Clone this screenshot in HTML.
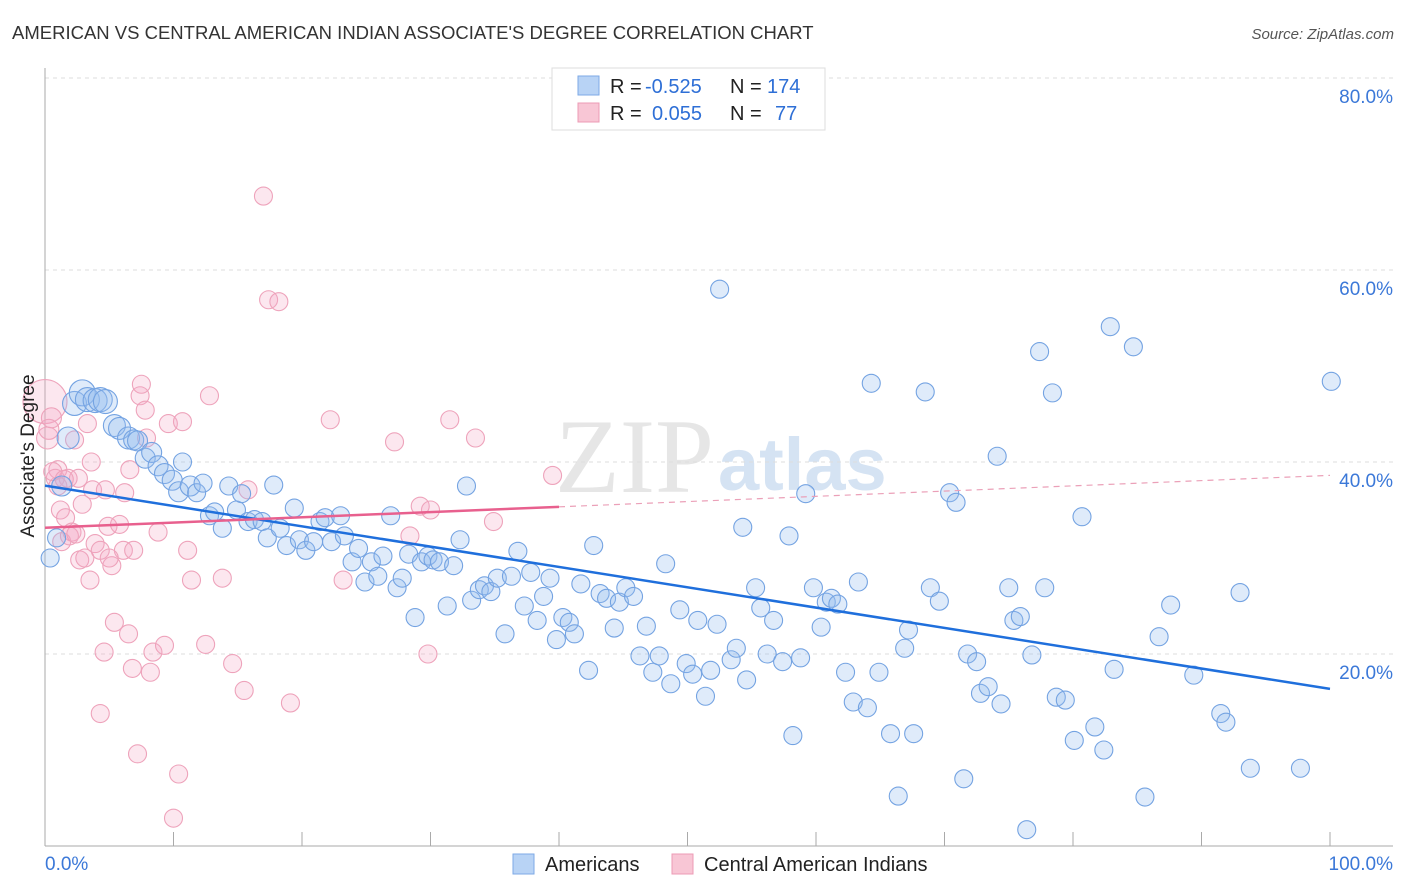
<!DOCTYPE html>
<html><head><meta charset="utf-8"><style>
body{margin:0;background:#fff;font-family:"Liberation Sans",sans-serif;}
svg{display:block}
</style></head><body>
<svg id="chart" width="1406" height="892">
<text x="12" y="39" font-size="18.5" fill="#333">AMERICAN VS CENTRAL AMERICAN INDIAN ASSOCIATE'S DEGREE CORRELATION CHART</text>
<text x="1394" y="39" font-size="15" fill="#555" font-style="italic" text-anchor="end">Source: ZipAtlas.com</text>
<text x="714" y="492" font-size="106" fill="#e6e6e6" text-anchor="end" font-family="Liberation Serif">ZIP</text>
<text x="718" y="490" font-size="74" fill="#d5e3f3" font-weight="bold">atlas</text>
<g id="grid"></g>
<g id="marks"></g>
<g id="lines"></g>
<text transform="translate(34,456) rotate(-90)" font-size="19" fill="#222" text-anchor="middle">Associate's Degree</text>
<text x="45" y="870" font-size="19" fill="#3b78d8">0.0%</text>
<text x="1393" y="870" font-size="19" fill="#3b78d8" text-anchor="end">100.0%</text>
<g>
<rect x="552" y="68" width="273" height="62" fill="#fff" stroke="#ddd"/>
<rect x="578" y="76" width="21" height="19" fill="#b8d3f5" stroke="#7eaae6"/>
<rect x="578" y="103" width="21" height="19" fill="#f8c6d5" stroke="#ec9bb5"/>
<text x="610" y="93" font-size="20" fill="#222">R = <tspan fill="#2e6fd6" x="645">-0.525</tspan></text>
<text x="730" y="93" font-size="20" fill="#222">N = <tspan fill="#2e6fd6" x="767">174</tspan></text>
<text x="610" y="120" font-size="20" fill="#222">R = <tspan fill="#2e6fd6" x="652">0.055</tspan></text>
<text x="730" y="120" font-size="20" fill="#222">N = <tspan fill="#2e6fd6" x="775">77</tspan></text>
</g>
<g>
<rect x="513" y="854" width="21" height="20" fill="#b8d3f5" stroke="#7eaae6"/>
<text x="545" y="871" font-size="20" fill="#222">Americans</text>
<rect x="672" y="854" width="21" height="20" fill="#f8c6d5" stroke="#ec9bb5"/>
<text x="704" y="871" font-size="20" fill="#222">Central American Indians</text>
</g>
</svg>
<script>
const blueX=[0.4,0.9,1.3,1.8,2.3,2.9,3.3,3.9,4.3,4.7,5.4,5.8,6.5,6.9,7.2,7.8,8.3,8.8,9.3,9.9,10.4,10.7,11.3,11.8,12.3,12.8,13.2,13.8,14.3,14.9,15.3,15.8,16.3,16.9,17.3,17.8,18.3,18.8,19.4,19.8,20.3,20.9,21.4,21.8,22.3,23.0,23.3,23.9,24.4,24.9,25.4,25.9,26.3,26.9,27.4,27.8,28.3,28.8,29.3,29.8,30.2,30.7,31.3,31.8,32.3,32.8,33.2,33.8,34.2,34.7,35.2,35.8,36.3,36.8,37.3,37.8,38.3,38.8,39.3,39.8,40.3,40.8,41.2,41.7,42.3,42.7,43.2,43.7,44.3,44.7,45.2,45.8,46.3,46.8,47.3,47.8,48.3,48.7,49.4,49.9,50.4,50.8,51.4,51.8,52.3,52.5,53.4,53.8,54.3,54.6,55.3,55.7,56.2,56.7,57.4,57.9,58.2,58.8,59.2,59.8,60.4,60.8,61.2,61.7,62.3,62.9,63.3,64.0,64.3,64.9,65.8,66.4,66.9,67.2,67.6,68.5,68.9,69.6,70.4,70.9,71.5,71.8,72.5,72.8,73.4,74.1,74.4,75.0,75.4,75.9,76.4,76.8,77.4,77.8,78.4,78.7,79.4,80.1,80.7,81.7,82.4,82.9,83.2,84.7,85.6,86.7,87.6,89.4,91.5,91.9,93.0,93.8,97.7,100.1];
const blueY=[30.0,32.1,37.5,42.5,46.1,47.2,46.5,46.4,46.5,46.3,43.8,43.5,42.5,42.3,42.2,40.4,41.0,39.6,38.8,38.1,36.9,40.0,37.5,36.8,37.8,34.4,34.8,33.1,37.5,35.0,36.7,33.8,34.0,33.8,32.1,37.6,33.1,31.3,35.2,31.9,30.8,31.7,33.8,34.2,31.7,34.4,32.3,29.6,31.0,27.5,29.6,28.1,30.2,34.4,26.9,27.9,30.4,23.8,29.6,30.2,29.8,29.6,25.0,29.2,31.9,37.5,25.6,26.7,27.1,26.5,27.9,22.1,28.1,30.7,25.0,28.5,23.5,26.0,27.9,21.5,23.8,23.3,22.1,27.3,18.3,31.3,26.3,25.8,22.7,25.4,26.9,26.0,19.8,22.9,18.1,19.8,29.4,16.9,24.6,19.0,17.9,23.5,15.6,18.3,23.1,58.0,19.4,20.6,33.2,17.3,26.9,24.8,20.0,23.5,19.2,32.3,11.5,19.6,36.7,26.9,22.8,25.4,25.8,25.2,18.1,15.0,27.5,14.4,48.2,18.1,11.7,5.2,20.6,22.5,11.7,47.3,26.9,25.5,36.8,35.8,7.0,20.0,19.2,15.9,16.6,40.6,14.8,26.9,23.5,23.9,1.7,19.9,51.5,26.9,47.2,15.5,15.2,11.0,34.3,12.4,10.0,54.1,18.4,52.0,5.1,21.8,25.1,17.8,13.8,12.9,26.4,8.1,8.1,48.4];
const blueSize=[9,9,10,11,12,13,12,12,12,12,11,11,11,10,10,10,10,10,10,10,10,9,10,9,9,9,9,9,9,9,9,9,9,9,9,9,9,9,9,9,9,9,9,9,9,9];
const pinkX=[0,0.2,0.3,0.5,1.0,0.8,1.2,1.6,1.8,2.1,2.3,2.6,2.7,2.9,3.1,3.3,3.5,3.7,3.9,4.3,4.6,4.7,4.9,5.2,5.4,5.8,6.2,6.5,6.6,6.8,7.2,7.4,7.5,7.8,7.9,8.2,8.4,8.8,9.3,9.6,10.4,10.7,10.0,11.1,11.4,12.5,12.8,13.8,14.6,15.5,15.8,17.0,17.4,18.2,19.1,22.2,23.2,27.2,28.4,29.2,30.0,29.8,31.5,33.5,34.9,39.5,1.0,1.3,1.9,4.3,6.1,0.6,1.5,2.4,5.0,6.9,3.6];
const pinkY=[46.3,42.5,43.4,44.6,39.2,38.3,35.0,34.2,38.3,32.7,42.3,38.3,29.8,35.6,30.0,44.0,27.7,37.1,31.5,13.8,20.2,37.1,33.3,29.2,23.3,33.5,36.8,22.1,39.2,18.5,9.6,46.9,48.1,45.4,42.5,18.1,20.2,32.7,20.9,44.0,7.5,44.2,2.9,30.8,27.7,21.0,46.9,27.9,19.0,16.2,37.1,67.7,56.9,56.7,14.9,44.4,27.7,42.1,32.3,35.4,35.0,20.0,44.4,42.5,33.8,38.6,37.5,31.7,32.3,30.8,30.8,39.0,38.2,32.5,30.0,30.8,40.0];
const pinkSize=[22,11,10,10,9,9];
const xTicks=[0,10,20,30,40,50,60,70,80,90,100];
const yTicks=[20,40,60,80];
const yTickLabels=["20.0%","40.0%","60.0%","80.0%"];

const NS="http://www.w3.org/2000/svg";
const X0=45,X1=1330,Y0=846,Y80=78;
function sx(v){return X0+(X1-X0)*v/100;}
function sy(v){return Y0-(Y0-Y80)*v/80;}
function mk(t,a,p){const e=document.createElementNS(NS,t);for(const k in a)e.setAttribute(k,a[k]);p.appendChild(e);return e;}
const grid=document.getElementById('grid'),marks=document.getElementById('marks'),lines=document.getElementById('lines');
yTicks.forEach((t,i)=>{
  const l=mk('line',{x1:X0,x2:1393,y1:sy(t),y2:sy(t),stroke:'#ddd','stroke-dasharray':'4,4'},grid);
  
  
  const tx=mk('text',{x:1393,y:sy(t)+25,'font-size':19,fill:'#3b78d8','text-anchor':'end'},grid);
  tx.textContent=yTickLabels[i];
  
  
});
const ax=mk('line',{x1:X0,x2:X0,y1:68,y2:Y0,stroke:'#aaa'},grid);


const bx=mk('line',{x1:X0,x2:1393,y1:Y0,y2:Y0,stroke:'#aaa'},grid);


xTicks.forEach(t=>{
  const l=mk('line',{x1:sx(t),x2:sx(t),y1:Y0-14,y2:Y0,stroke:'#aaa'},grid);
  
  
});
function dots(xs,ys,sz,fill,stroke,name){
  xs.forEach((x,i)=>{
    const c=mk('circle',{cx:sx(x),cy:sy(ys[i]),r:sz[i]||9,fill:fill,stroke:stroke,'stroke-width':1.1},marks);
    
    
  });
}
dots(pinkX,pinkY,pinkSize,'rgba(246,170,196,0.28)','#eea3bb','central-american-indian-point');
dots(blueX,blueY,blueSize,'rgba(150,190,238,0.3)','#74a3e2','american-point');
function fit(xs,ys){const n=xs.length;let mx=0,my=0;xs.forEach((x,i)=>{mx+=x;my+=ys[i];});mx/=n;my/=n;let a=0,b=0;xs.forEach((x,i)=>{a+=(x-mx)*(ys[i]-my);b+=(x-mx)*(x-mx);});const s=a/b;return [my-s*mx,s];}
const bf=fit(blueX,blueY);
const bl=mk('line',{x1:sx(0),y1:sy(bf[0]),x2:sx(100),y2:sy(bf[0]+100*bf[1]),stroke:'#1f6fdc','stroke-width':2.5},lines);


const pf=fit(pinkX,pinkY);
const pl=mk('line',{x1:sx(0),y1:sy(pf[0]),x2:sx(40),y2:sy(pf[0]+40*pf[1]),stroke:'#e8608e','stroke-width':2.5},lines);


const pd=mk('line',{x1:sx(40),y1:sy(pf[0]+40*pf[1]),x2:sx(100),y2:sy(pf[0]+100*pf[1]),stroke:'#eba0b8','stroke-width':1.2,'stroke-dasharray':'6,5'},lines);


</script>
</body></html>
